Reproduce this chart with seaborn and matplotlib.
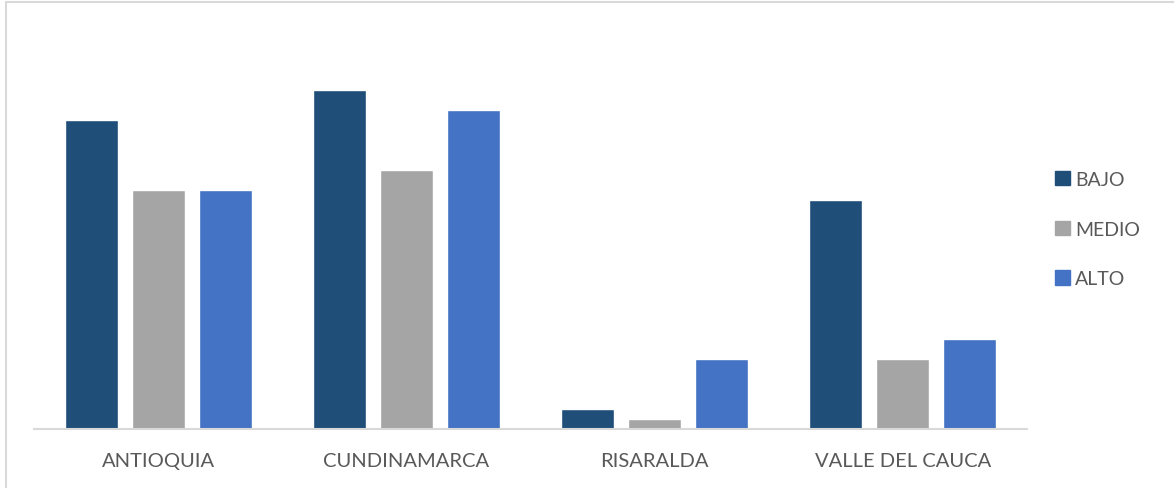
import matplotlib
matplotlib.use("Agg")
import matplotlib.pyplot as plt
from matplotlib.lines import Line2D
import seaborn as sns
import pandas as pd

departamentos = ["ANTIOQUIA", "CUNDINAMARCA", "RISARALDA", "VALLE DEL CAUCA"]
niveles = ["BAJO", "MEDIO", "ALTO"]
bajo = [31, 34, 2, 23]
medio = [24, 26, 1, 7]
alto = [24, 32, 7, 9]

colores = {"BAJO": "#1F4E79", "MEDIO": "#A5A5A5", "ALTO": "#4472C4"}

df = pd.DataFrame({
    "departamento": departamentos * 3,
    "nivel": ["BAJO"] * 4 + ["MEDIO"] * 4 + ["ALTO"] * 4,
    "valor": bajo + medio + alto,
})

sns.set_theme(style="white")
plt.rcParams["font.family"] = ["Lato", "DejaVu Sans"]

W, H = 1174, 489
fig = plt.figure(figsize=(W / 100, H / 100), dpi=100)
base_px = 429.5
top_px = 429.5 - 36 * 9.95
ax = fig.add_axes([34 / W, (H - base_px) / H, (1027 - 34) / W, (base_px - top_px) / H])

sns.barplot(data=df, x="departamento", y="valor", hue="nivel",
            hue_order=niveles, order=departamentos, palette=colores,
            width=0.81, gap=0.21, ax=ax, legend=False, saturation=1)

ax.set_ylim(0, 36)
ax.set_xlim(-0.5, 3.5)
ax.set_xlabel("")
ax.set_ylabel("")
ax.set_yticks([])
for s in ["top", "right", "left"]:
    ax.spines[s].set_visible(False)
ax.spines["bottom"].set_color("#D9D9D9")
ax.spines["bottom"].set_linewidth(1.5)
ax.tick_params(axis="x", length=0, pad=17, labelsize=14.5, labelcolor="#595959")

handles = [plt.Rectangle((0, 0), 1, 1, color=colores[n]) for n in niveles]
fig.legend(handles, niveles, loc="upper left", bbox_to_anchor=(1055 / W, 1 - 172 / H),
           frameon=False, fontsize=14, labelcolor="#595959",
           handlelength=0.75, handleheight=0.75, handletextpad=0.3,
           labelspacing=1.68, borderaxespad=0, borderpad=0)

# outer chart border (left and top edges)
fig.add_artist(Line2D([6 / W, 6 / W], [0, 1 - 2.5 / H], transform=fig.transFigure,
                      color="#D9D9D9", lw=1.5))
fig.add_artist(Line2D([6 / W, 1], [1 - 2.5 / H, 1 - 2.5 / H], transform=fig.transFigure,
                      color="#D9D9D9", lw=1.5))

fig.savefig("out.png", dpi=100, facecolor="white")
